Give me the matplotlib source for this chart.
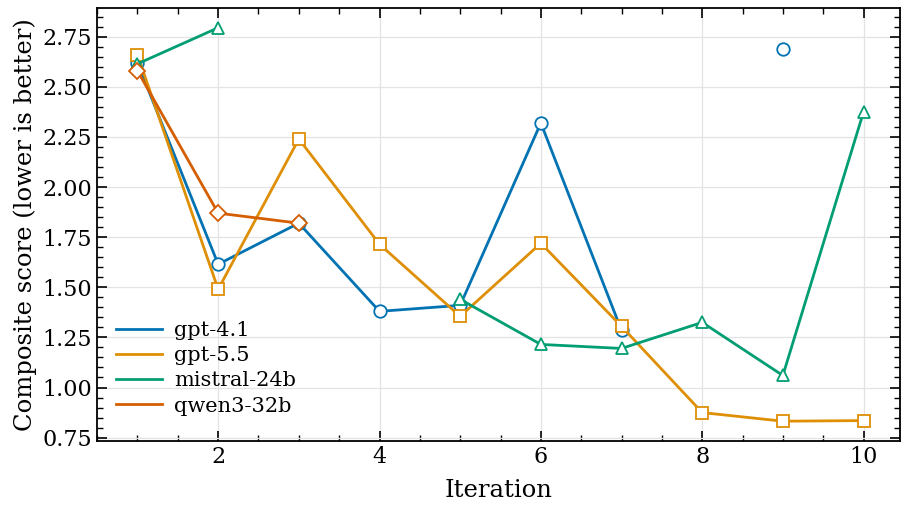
import numpy as np
import matplotlib
matplotlib.use('Agg')
import matplotlib.pyplot as plt
from matplotlib.lines import Line2D

iterations = [1, 2, 3, 4, 5, 6, 7, 8, 9, 10]
nan = np.nan

# composite score per model (NaN = no run)
gpt41 = [2.62, 1.615, 1.82, 1.38, 1.41, 2.32, 1.285, nan, 2.69, nan]
gpt55 = [2.66, 1.49, 2.24, 1.715, 1.355, 1.72, 1.305, 0.875, 0.832, 0.835]
mistral = [2.615, 2.795, nan, nan, 1.44, 1.215, 1.195, 1.325, 1.06, 2.375]
qwen = [2.58, 1.87, 1.82, nan, nan, nan, nan, nan, nan, nan]

series = [
    ('gpt-4.1', gpt41, '#0173B2', 'o'),
    ('gpt-5.5', gpt55, '#DE8F05', 's'),
    ('mistral-24b', mistral, '#029E73', '^'),
    ('qwen3-32b', qwen, '#D55E00', 'D'),
]

plt.rcParams['font.family'] = 'DejaVu Serif'
plt.rcParams['xtick.direction'] = 'in'
plt.rcParams['ytick.direction'] = 'in'
plt.rcParams['xtick.top'] = True
plt.rcParams['ytick.right'] = True

fig, ax = plt.subplots(figsize=(9.08, 5.05), dpi=100)

for name, vals, color, marker in series:
    ax.plot(iterations, vals, color=color, lw=2, marker=marker, markersize=9 if marker != 'D' else 8,
            markerfacecolor='white', markeredgecolor=color, markeredgewidth=1.3, label=name)

ax.set_xlim(0.5, 10.45)
ax.set_xticks([2, 4, 6, 8, 10])
ax.xaxis.set_minor_locator(matplotlib.ticker.MultipleLocator(0.5))
ax.yaxis.set_major_locator(matplotlib.ticker.MultipleLocator(0.25))
ax.yaxis.set_minor_locator(matplotlib.ticker.MultipleLocator(0.05))
ax.yaxis.set_major_formatter(matplotlib.ticker.FormatStrFormatter('%.2f'))
ax.tick_params(which='major', length=7, width=1.2, labelsize=16)
ax.tick_params(which='minor', length=4, width=1)
for s in ax.spines.values():
    s.set_linewidth(1.3)
ax.grid(True, color='#e3e3e3', lw=0.9)
ax.set_axisbelow(True)

ax.set_xlabel('Iteration', fontsize=17.5, labelpad=8)
ax.set_ylabel('Composite score (lower is better)', fontsize=17.5, labelpad=4)

handles = [Line2D([], [], color=c, lw=2) for _, _, c, _ in series]
ax.legend(handles, [n for n, _, _, _ in series], loc='lower left', frameon=False, fontsize=15,
          handlelength=2.2, handletextpad=0.6, labelspacing=0.3, bbox_to_anchor=(0.0, 0.015))

fig.subplots_adjust(left=0.107, right=0.991, top=0.984, bottom=0.127)
fig.savefig('out.png')
